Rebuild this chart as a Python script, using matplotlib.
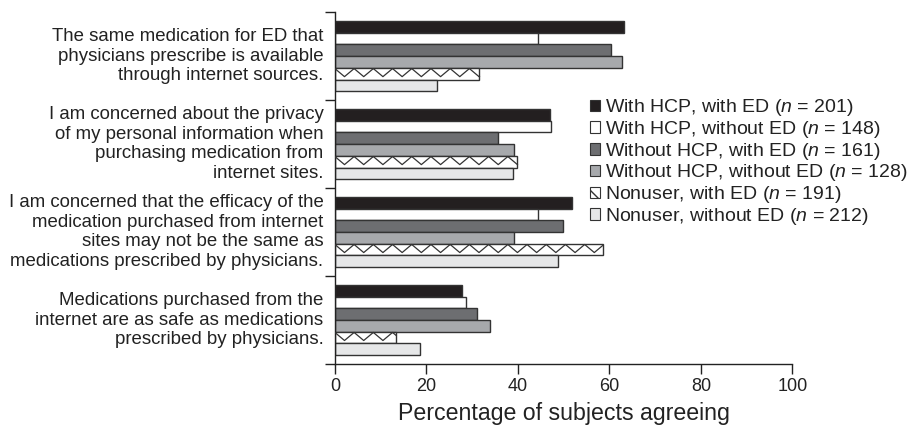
import numpy as np
import matplotlib
matplotlib.use("Agg")
import matplotlib.pyplot as plt
from matplotlib.patches import Patch
from matplotlib.lines import Line2D

plt.rcParams['font.family'] = ['Liberation Sans', 'DejaVu Sans']
plt.rcParams['mathtext.fontset'] = 'custom'
plt.rcParams['mathtext.it'] = 'Liberation Sans:italic'
plt.rcParams['mathtext.rm'] = 'Liberation Sans'

statements = [
    "The same medication for ED that\nphysicians prescribe is available\nthrough internet sources.",
    "I am concerned about the privacy\nof my personal information when\npurchasing medication from\ninternet sites.",
    "I am concerned that the efficacy of the\nmedication purchased from internet\nsites may not be the same as\nmedications prescribed by physicians.",
    "Medications purchased from the\ninternet are as safe as medications\nprescribed by physicians.",
]
groups = [
    "With HCP, with ED ($n$ = 201)",
    "With HCP, without ED ($n$ = 148)",
    "Without HCP, with ED ($n$ = 161)",
    "Without HCP, without ED ($n$ = 128)",
    "Nonuser, with ED ($n$ = 191)",
    "Nonuser, without ED ($n$ = 212)",
]
with_hcp_ed = [63.1, 47.0, 51.8, 27.7]
with_hcp_no_ed = [44.3, 47.3, 44.5, 28.6]
without_hcp_ed = [60.3, 35.6, 49.9, 31.1]
without_hcp_no_ed = [62.8, 39.1, 39.1, 33.8]
nonuser_ed = [31.6, 39.9, 58.5, 13.4]
nonuser_no_ed = [22.4, 38.9, 48.8, 18.5]
series = [with_hcp_ed, with_hcp_no_ed, without_hcp_ed, without_hcp_no_ed, nonuser_ed, nonuser_no_ed]

colors = ['#231f20', '#ffffff', '#6d6e71', '#a7a9ac', '#ffffff', '#e6e7e8']
edge = '#333333'
txt = '#222222'

fig = plt.figure(figsize=(9.15, 4.28), dpi=100)
ax = fig.add_axes([0.366, 0.1495, 0.5, 0.822])

h = 0.133
y = np.arange(len(statements))
zig_bars = []
for j, vals in enumerate(series):
    bars = ax.barh(y + (j - 2.5) * h, vals, height=h, color=colors[j],
                   edgecolor=edge, linewidth=1.0, zorder=2)
    if j == 4:
        zig_bars = list(bars)

ax.set_xlim(0, 100)
ax.set_ylim(3.5, -0.5)

# zigzag fill for the nonuser-with-ED bars, kept inside each bar
period = 4.2
for b in zig_bars:
    x0, w = b.get_x(), b.get_width()
    yt, hh = b.get_y(), b.get_height()
    y_hi, y_lo = yt + 0.06 * hh, yt + 0.75 * hh
    xs = list(np.arange(x0, x0 + w, period / 2))
    ys = [y_hi if k % 2 == 0 else y_lo for k in range(len(xs))]
    frac = (x0 + w - xs[-1]) / (period / 2)
    nxt = y_lo if len(xs) % 2 == 1 else y_hi
    xs.append(x0 + w)
    ys.append(ys[-1] + (nxt - ys[-1]) * frac)
    ax.add_line(Line2D(xs, ys, color=edge, linewidth=0.9, zorder=3))

ax.set_yticks(np.arange(-0.5, 4, 1))
ax.set_yticklabels([])
for yc, s in zip(y, statements):
    ax.text(-2.5, yc, s, ha='right', va='center', fontsize=13.4, color=txt,
            linespacing=1.2)

ax.set_xticks(np.arange(0, 101, 20))
ax.tick_params(axis='x', direction='out', length=7, width=1, labelsize=13,
               colors=txt, pad=3)
ax.tick_params(axis='y', direction='out', length=7, width=1, colors=txt)
ax.set_xlabel("Percentage of subjects agreeing", fontsize=16.7, color=txt, labelpad=5)

for sp in ['top', 'right']:
    ax.spines[sp].set_visible(False)
for sp in ['left', 'bottom']:
    ax.spines[sp].set_color(txt)
    ax.spines[sp].set_linewidth(1)

handles = []
for j in range(6):
    if j == 4:
        handles.append(Patch(facecolor='white', edgecolor=edge, hatch='x', linewidth=0.8))
    else:
        handles.append(Patch(facecolor=colors[j], edgecolor=edge, linewidth=0.8))
leg = fig.legend(handles, groups, loc='upper left', bbox_to_anchor=(0.645, 0.773),
                 frameon=False, fontsize=14, handlelength=0.53, handleheight=0.53,
                 handletextpad=0.22, labelspacing=0.04, borderaxespad=0, borderpad=0)
for t in leg.get_texts():
    t.set_color(txt)

fig.savefig("out.png", dpi=100)
